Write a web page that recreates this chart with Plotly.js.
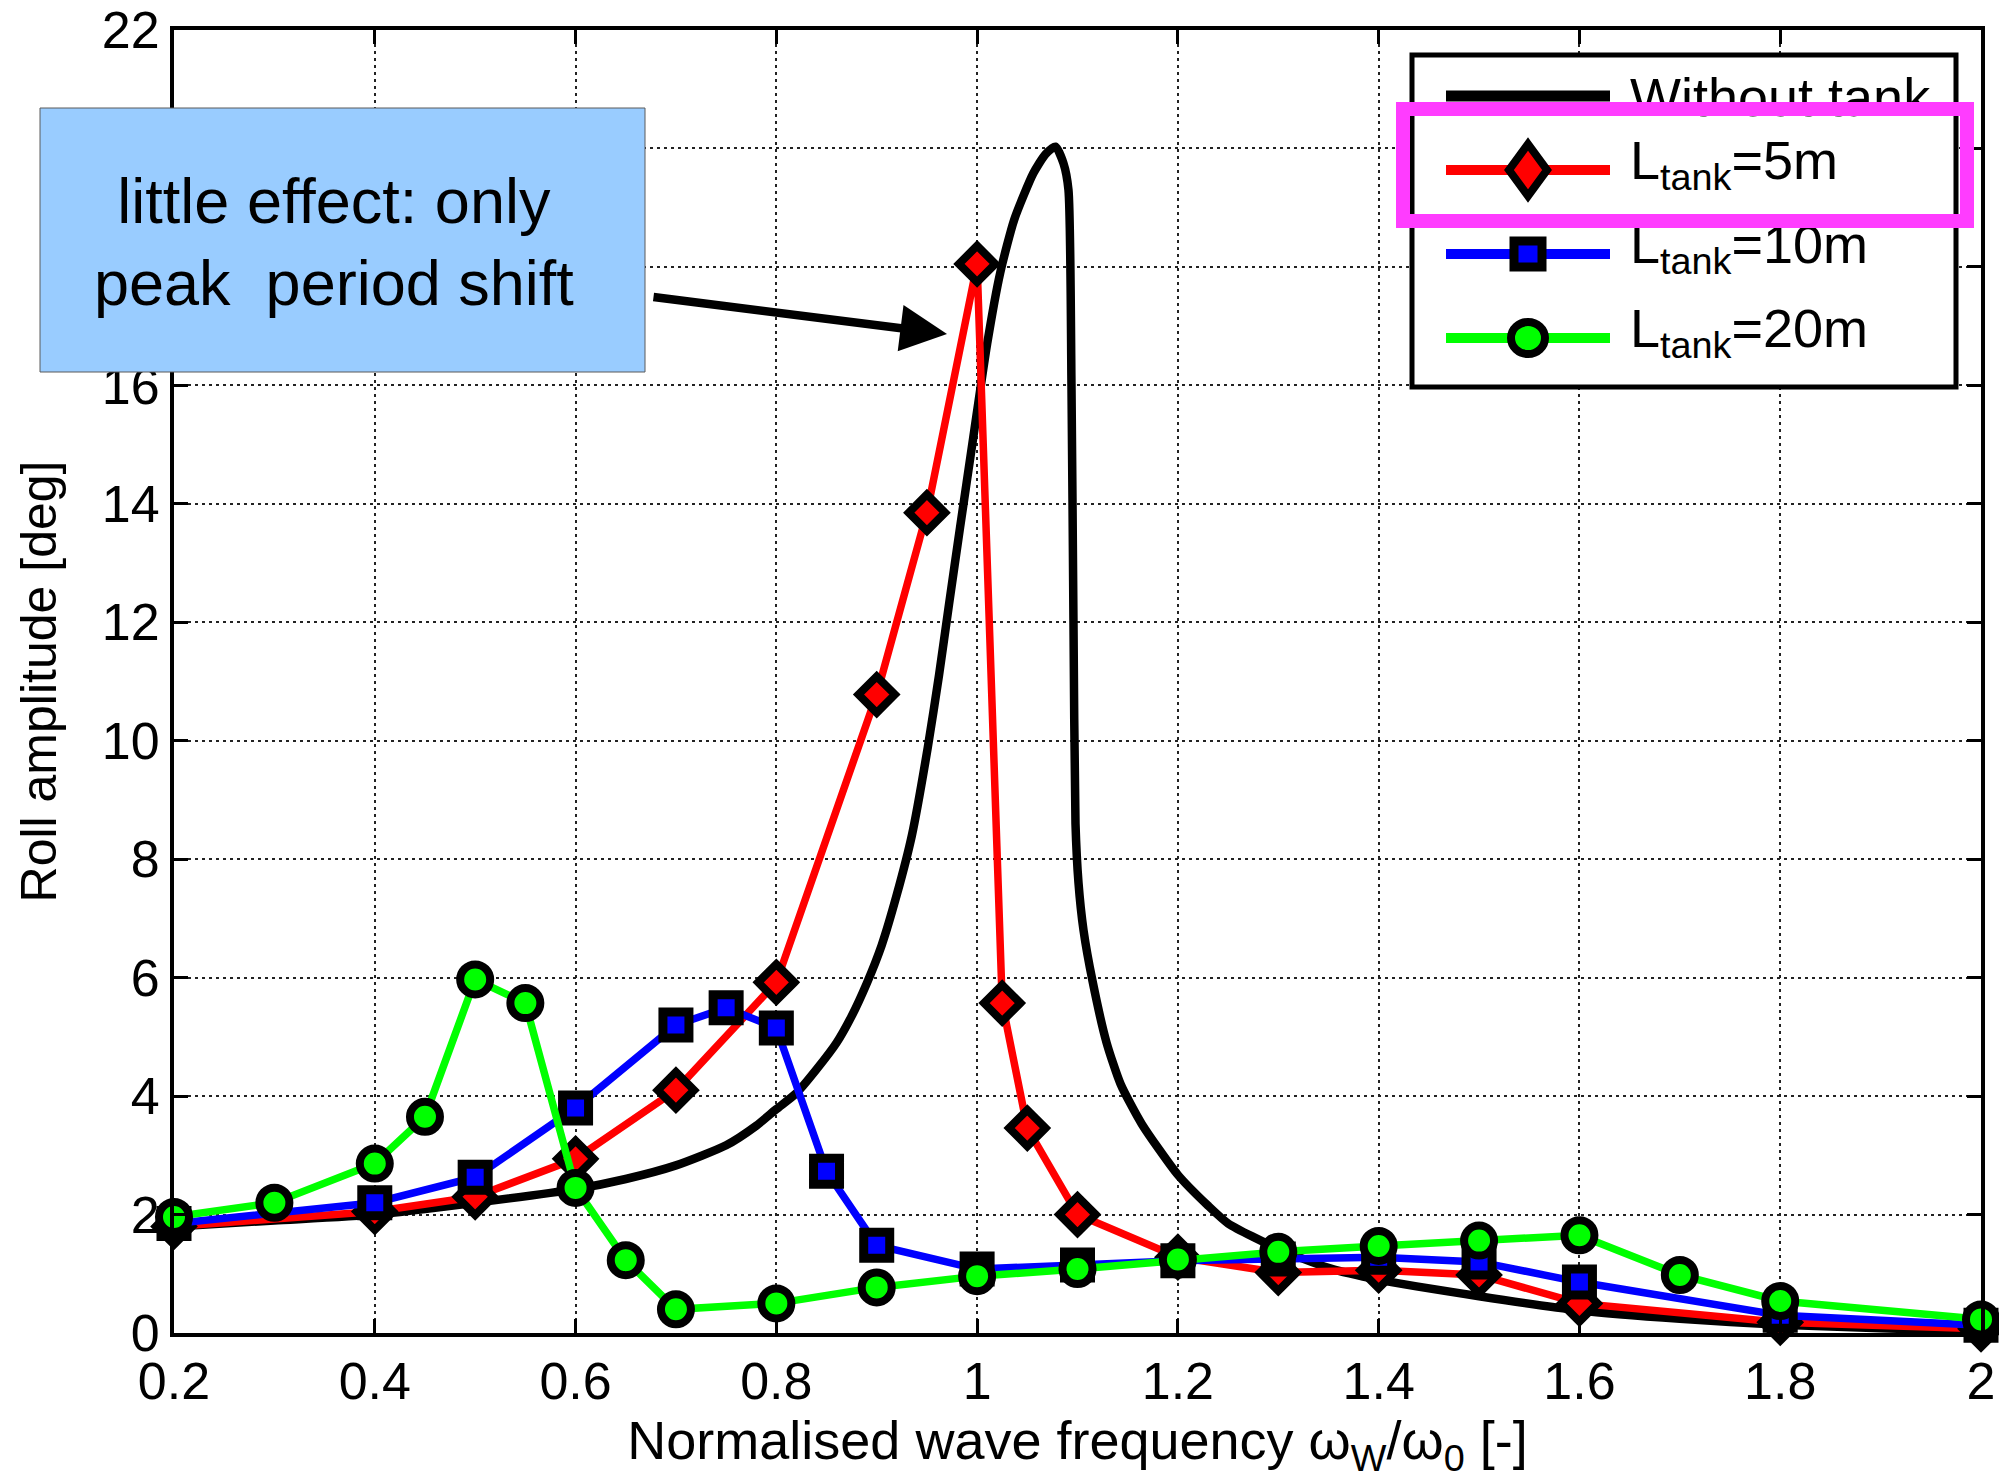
<!DOCTYPE html>
<html>
<head>
<meta charset="utf-8">
<script src="https://cdn.plot.ly/plotly-3.0.1.min.js"></script>
<style>html,body{margin:0;padding:0;background:#fff;}</style>
</head>
<body>
<div id="chart" style="width:1999px;height:1483px;"></div>
<script>
// ---- Data ----
const seriesNames = ['Without tank', 'L<sub>tank</sub>=5m', 'L<sub>tank</sub>=10m', 'L<sub>tank</sub>=20m'];

const xNoTank = [0.2,0.3,0.4,0.5,0.6,0.65,0.7,0.75,0.78,0.8,0.82,0.84,0.86,0.875,0.89,0.905,0.92,0.935,0.951,0.962,0.972,0.983,0.996,1.01,1.023,1.037,1.056,1.068,1.078,1.086,1.091,1.094,1.096,1.098,1.101,1.106,1.115,1.129,1.143,1.164,1.2,1.23,1.25,1.3,1.35,1.4,1.5,1.6,1.7,1.8,1.9,2.0];
const yNoTank = [1.8,1.9,2.0,2.2,2.43,2.6,2.83,3.17,3.5,3.78,4.05,4.45,4.9,5.35,5.9,6.55,7.4,8.4,9.9,11.1,12.3,13.6,15.1,16.7,17.9,18.8,19.58,19.9,20.03,19.75,19.3,16.0,12.0,8.6,7.6,6.8,5.94,4.9,4.2,3.53,2.67,2.15,1.85,1.42,1.1,0.9,0.62,0.38,0.24,0.14,0.08,0.03];

const x5m = [0.2,0.4,0.5,0.6,0.7,0.8,0.9,0.95,1.0,1.025,1.05,1.1,1.2,1.3,1.4,1.5,1.6,1.8,2.0];
const y5m = [1.8,2.05,2.3,2.94,4.1,5.92,10.78,13.85,18.05,5.57,3.46,2.0,1.28,1.02,1.06,0.98,0.5,0.18,0.07];

const x10m = [0.2,0.4,0.5,0.6,0.7,0.75,0.8,0.85,0.9,1.0,1.1,1.2,1.3,1.4,1.5,1.6,1.8,2.0];
const y10m = [1.85,2.2,2.63,3.8,5.2,5.49,5.15,2.73,1.48,1.08,1.15,1.22,1.25,1.28,1.2,0.86,0.3,0.13];

const x20m = [0.2,0.3,0.4,0.45,0.5,0.55,0.6,0.65,0.7,0.8,0.9,1.0,1.1,1.2,1.3,1.4,1.5,1.6,1.7,1.8,2.0];
const y20m = [1.96,2.2,2.86,3.65,5.97,5.57,2.45,1.23,0.4,0.5,0.77,0.96,1.08,1.24,1.37,1.47,1.56,1.65,0.98,0.54,0.23];

const xTickVals = [0.2,0.4,0.6,0.8,1.0,1.2,1.4,1.6,1.8,2.0];
const xTickText = ['0.2','0.4','0.6','0.8','1','1.2','1.4','1.6','1.8','2'];
const yTickVals = [0,2,4,6,8,10,12,14,16,18,20,22];

const xTitle = 'Normalised wave frequency ω<sub>W</sub>/ω<sub>0</sub> [-]';
const yTitle = 'Roll amplitude [deg]';
const noteText = 'little effect: only<br>peak\u00a0 period shift';

// ---- Layout geometry ----
const W = 1999, H = 1483;
const M = {l:174, r:18, t:30, b:150};
const PW = W - M.l - M.r, PH = H - M.t - M.b;
const px = X => (X - M.l) / PW;       // pixel -> paper x
const py = Y => (M.t + PH - Y) / PH;  // pixel -> paper y

const FONT = 'Liberation Sans, Arial, Helvetica, sans-serif';

const traces = [
  {x:xNoTank, y:yNoTank, name:seriesNames[0], mode:'lines', line:{color:'#000000', width:8.5, shape:'spline', smoothing:0.6}, cliponaxis:false},
  {x:x5m, y:y5m, name:seriesNames[1], mode:'lines+markers', line:{color:'#ff0000', width:7.5},
   marker:{symbol:'diamond', size:28, color:'#ff0000', line:{color:'#000000', width:8}}, cliponaxis:false},
  {x:x10m, y:y10m, name:seriesNames[2], mode:'lines+markers', line:{color:'#0000ff', width:7.5},
   marker:{symbol:'square', size:26, color:'#0000ff', line:{color:'#000000', width:9}}, cliponaxis:false},
  {x:x20m, y:y20m, name:seriesNames[3], mode:'lines+markers', line:{color:'#00ff00', width:7.5},
   marker:{symbol:'circle', size:30, color:'#00ff00', line:{color:'#000000', width:8}}, cliponaxis:false}
];

// ---- Custom legend (glyphs as shapes) ----
const legendRows = [
  {y:96,  color:'#000000', sym:null},
  {y:170, color:'#ff0000', sym:'diamond', fill:'#ff0000'},
  {y:254, color:'#0000ff', sym:'square', fill:'#0000ff'},
  {y:338, color:'#00ff00', sym:'circle', fill:'#00ff00'}
];
const lx0 = 1446, lx1 = 1610, mx = 1528;
const shapes = [];
shapes.push({type:'rect', xref:'paper', yref:'paper', layer:'above',
  x0:px(1412), x1:px(1956), y0:py(387), y1:py(55),
  line:{color:'#000', width:5}, fillcolor:'#ffffff'});
legendRows.forEach((r, i) => {
  shapes.push({type:'line', xref:'paper', yref:'paper', layer:'above',
    x0:px(lx0), x1:px(lx1), y0:py(r.y), y1:py(r.y),
    line:{color:r.color, width: i === 0 ? 11 : 10}});
  if (r.sym === 'diamond') {
    const hw = 19, hh = 26;
    shapes.push({type:'path', xref:'paper', yref:'paper', layer:'above',
      path:`M${px(mx)},${py(r.y-hh)} L${px(mx+hw)},${py(r.y)} L${px(mx)},${py(r.y+hh)} L${px(mx-hw)},${py(r.y)} Z`,
      fillcolor:r.fill, line:{color:'#000', width:8}});
  } else if (r.sym === 'square') {
    shapes.push({type:'rect', xref:'paper', yref:'paper', layer:'above',
      x0:px(mx-14), x1:px(mx+14), y0:py(r.y+13), y1:py(r.y-13),
      fillcolor:r.fill, line:{color:'#000', width:9}});
  } else if (r.sym === 'circle') {
    shapes.push({type:'circle', xref:'paper', yref:'paper', layer:'above',
      x0:px(mx-17), x1:px(mx+17), y0:py(r.y+16), y1:py(r.y-16),
      fillcolor:r.fill, line:{color:'#000', width:8}});
  }
});

const legendTextY = [97, 164, 248, 332];
const annotations = [];
seriesNames.forEach((t, i) => {
  annotations.push({xref:'paper', yref:'paper', x:px(1628), y:py(legendTextY[i]),
    xanchor:'left', yanchor:'middle', showarrow:false, text:t,
    font:{family:FONT, size:54, color:'#000'}});
});

// callout box (background + border) and its text
shapes.push({type:'rect', xref:'paper', yref:'paper', layer:'above',
  x0:px(40), x1:px(645), y0:py(372), y1:py(108),
  fillcolor:'#99ccff', line:{color:'#5a5a5a', width:1}});
annotations.push({xref:'paper', yref:'paper', x:px(334), y:py(242), xanchor:'center', yanchor:'middle',
  showarrow:false, text:noteText, align:'center',
  font:{family:FONT, size:63, color:'#000'}});
// arrow
annotations.push({xref:'paper', yref:'paper', x:px(947), y:py(334), ax:-302, ay:-38,
  text:' ', showarrow:true, arrowhead:2, arrowsize:1.1, arrowwidth:8.5, arrowcolor:'#000', standoff:0});
// magenta highlight
annotations.push({xref:'paper', yref:'paper', x:px(1685), y:py(165), xanchor:'center', yanchor:'middle',
  showarrow:false, text:' ', width:550, height:98, borderpad:0,
  bordercolor:'#ff3cff', borderwidth:14, bgcolor:'rgba(0,0,0,0)'});

const axisCommon = {
  ticks:'inside', ticklen:14, tickwidth:3, tickcolor:'#000',
  showline:true, linewidth:4, linecolor:'#000', mirror:'ticks',
  showgrid:true, gridcolor:'#222', gridwidth:2, griddash:'3px,4px',
  zeroline:false, tickfont:{family:FONT, size:52, color:'#000'}
};

const layout = {
  width:W, height:H, margin:M, showlegend:false,
  paper_bgcolor:'#ffffff', plot_bgcolor:'#ffffff',
  font:{family:FONT, size:52, color:'#000'},
  xaxis:Object.assign({}, axisCommon, {range:[0.2,2], tickmode:'array', tickvals:xTickVals, ticktext:xTickText,
    title:{text:xTitle, font:{family:FONT, size:54, color:'#000'}, standoff:12}}),
  yaxis:Object.assign({}, axisCommon, {range:[0,22], tickmode:'array', tickvals:yTickVals,
    title:{text:yTitle, font:{family:FONT, size:50, color:'#000'}, standoff:30}}),
  shapes:shapes,
  annotations:annotations
};

Plotly.newPlot('chart', traces, layout, {displayModeBar:false, staticPlot:true});
</script>
</body>
</html>
